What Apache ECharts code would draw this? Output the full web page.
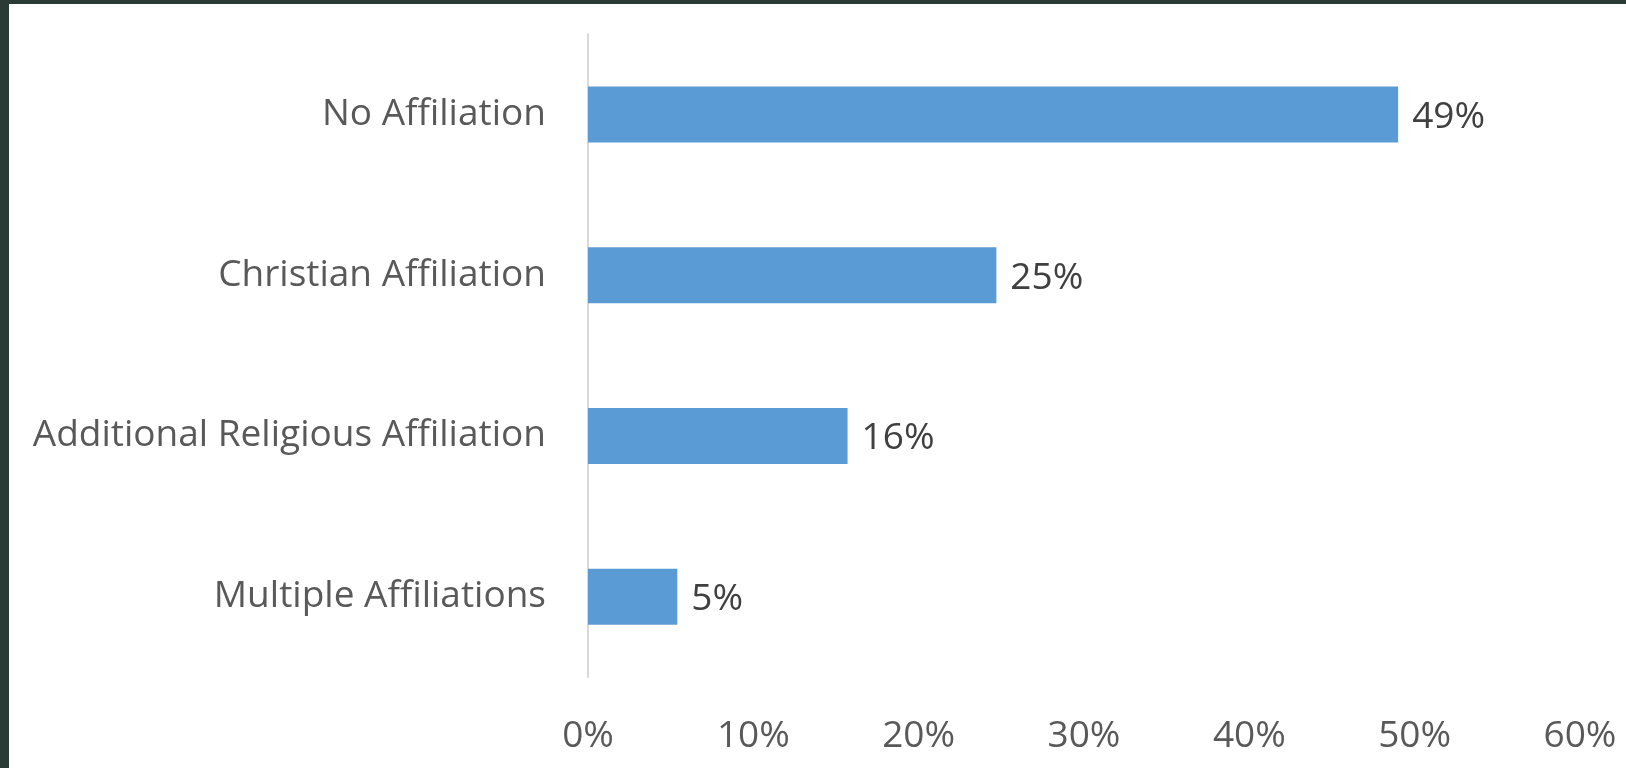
<!DOCTYPE html>
<html>
<head>
<meta charset="utf-8">
<title>Affiliation</title>
<script src="https://cdn.jsdelivr.net/npm/echarts@6/dist/echarts.min.js"></script>
<style>
  html, body { margin: 0; padding: 0; background: #ffffff; }
  #chart { width: 1626px; height: 768px; }
</style>
</head>
<body>
<div id="chart"></div>
<script>
// Survey categories, top to bottom
const categories = [
  'No Affiliation',
  'Christian Affiliation',
  'Additional Religious Affiliation',
  'Multiple Affiliations'
];
// Share of respondents, percent
const shares = [49.0, 24.7, 15.7, 5.4];
// Horizontal axis range and step, percent
const axisMin = 0;
const axisMax = 60;
const axisStep = 10;

const FONT = '"Open Sans", "Noto Sans", sans-serif';
const SIZE = 37;

const chart = echarts.init(document.getElementById('chart'), null, { renderer: 'canvas' });

chart.setOption({
  backgroundColor: '#ffffff',
  animation: false,
  textStyle: { fontFamily: FONT },
  graphic: [
    // dark frame along the top and left edges
    { type: 'rect', left: 0, top: 0, shape: { width: 1626, height: 4 }, style: { fill: '#2a3b35' }, z: 100 },
    { type: 'rect', left: 0, top: 0, shape: { width: 9, height: 768 }, style: { fill: '#2a3b35' }, z: 100 }
  ],
  grid: { left: 588, right: 46, top: 34, bottom: 91 },
  xAxis: {
    type: 'value',
    min: axisMin,
    max: axisMax,
    interval: axisStep,
    axisLine: { show: false },
    axisTick: { show: false },
    splitLine: { show: false },
    axisLabel: {
      formatter: '{value}%',
      color: '#595959',
      fontSize: SIZE,
      fontFamily: FONT,
      margin: 41
    }
  },
  yAxis: {
    type: 'category',
    inverse: true,
    data: categories,
    axisLine: { show: true, lineStyle: { color: '#d9d9d9', width: 2 } },
    axisTick: { show: false },
    splitLine: { show: false },
    axisLabel: {
      color: '#595959',
      fontSize: SIZE,
      fontFamily: FONT,
      margin: 42,
      padding: [6, 0, 0, 0]
    }
  },
  series: [{
    type: 'bar',
    data: shares,
    barWidth: 56,
    itemStyle: { color: '#5b9bd5' },
    label: {
      show: true,
      position: 'right',
      distance: 14,
      offset: [0, 3],
      color: '#404040',
      fontSize: SIZE,
      fontFamily: FONT,
      formatter: p => Math.round(p.value) + '%'
    }
  }]
});
</script>
</body>
</html>
